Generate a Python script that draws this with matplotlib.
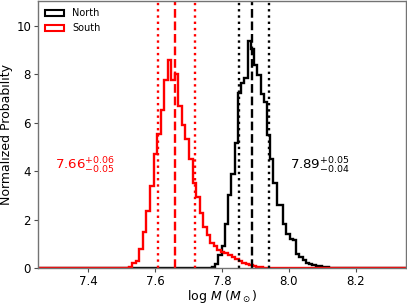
import numpy as np
import matplotlib
matplotlib.use("Agg")
import matplotlib.pyplot as plt
from matplotlib.patches import Rectangle

# ---- data ----
# South histogram (normalized probability per bin), bins start at south_start
south_start = 7.500
south_width = 0.0106
south_vals = [0.01, 0.02, 0.05, 0.19, 0.29, 0.77, 1.50, 2.36, 3.39, 4.70, 5.52,
              6.53, 7.74, 8.60, 7.74, 8.02, 6.67, 5.91, 5.31, 4.49, 3.50, 2.95,
              2.26, 1.71, 1.38, 1.05, 0.90, 0.75, 0.68, 0.60, 0.52, 0.45, 0.36,
              0.28, 0.22, 0.16, 0.12, 0.09, 0.06, 0.04, 0.02]

# North histogram
north_start = 7.760
north_width = 0.0097
north_vals = [0.02, 0.05, 0.15, 0.54, 0.92, 1.81, 3.02, 3.87, 5.15, 7.22, 7.63,
              7.84, 9.38, 9.05, 8.36, 7.97, 7.20, 6.85, 5.50, 4.50, 3.50, 2.60,
              2.60, 1.82, 1.42, 1.18, 1.16, 0.56, 0.46, 0.33, 0.19, 0.17, 0.12,
              0.09, 0.07, 0.04, 0.03, 0.02]

south_med, south_lo, south_hi = 7.66, 7.61, 7.72
north_med, north_lo, north_hi = 7.89, 7.85, 7.94

south_label = r"$7.66^{+0.06}_{-0.05}$"
north_label = r"$7.89^{+0.05}_{-0.04}$"

xmin, xmax = 7.25, 8.35
xticks = [7.4, 7.6, 7.8, 8.0, 8.2]
yticks = [0, 2, 4, 6, 8, 10]


def full_stairs(start, width, vals):
    n_left = int(np.ceil((start - xmin) / width)) + 1
    n_right = int(np.ceil((xmax - (start + width * len(vals))) / width)) + 1
    v = np.concatenate([np.zeros(n_left), np.asarray(vals, float), np.zeros(n_right)])
    first = start - n_left * width
    edges = first + width * np.arange(len(v) + 1)
    return v, edges


fig = plt.figure(figsize=(4.07, 3.05), dpi=100)
ax = fig.add_axes([0.0934, 0.1213, 0.904, 0.874])

lw = 1.7
nv, ne = full_stairs(north_start, north_width, north_vals)
sv, se = full_stairs(south_start, south_width, south_vals)
ax.stairs(nv, ne, color="black", lw=lw, label="North")
ax.stairs(sv, se, color="red", lw=lw, label="South")

ax.axvline(north_med, color="black", ls="--", lw=lw)
ax.axvline(north_lo, color="black", ls=":", lw=lw)
ax.axvline(north_hi, color="black", ls=":", lw=lw)
ax.axvline(south_med, color="red", ls="--", lw=lw)
ax.axvline(south_lo, color="red", ls=":", lw=lw)
ax.axvline(south_hi, color="red", ls=":", lw=lw)

ax.text(7.30, 4.2, south_label, color="red", fontsize=9.6, va="center", ha="left")
ax.text(8.003, 4.2, north_label, color="black", fontsize=9.6, va="center", ha="left")

ax.set_xlim(xmin, xmax)
ax.set_ylim(0, 11)
ax.set_xticks(xticks)
ax.set_xticklabels([f"{t:.1f}" for t in xticks])
ax.set_yticks(yticks)
ax.tick_params(labelsize=8.5, length=3, width=0.8, color="0.3", pad=2)
for s in ax.spines.values():
    s.set_color("0.45")
    s.set_linewidth(1.0)

ax.set_xlabel(r"log $M$ ($M_\odot$)", fontsize=9, labelpad=0)
ax.set_ylabel("Normalized Probability", fontsize=9, labelpad=2)

h1 = Rectangle((0, 0), 1, 1, fill=False, edgecolor="black", lw=1.5)
h2 = Rectangle((0, 0), 1, 1, fill=False, edgecolor="red", lw=1.5)
ax.legend([h1, h2], ["North", "South"], loc="upper left", fontsize=7,
          frameon=False, borderaxespad=0.3, handlelength=2.0, handleheight=0.6)

fig.savefig("out.png", dpi=100)
